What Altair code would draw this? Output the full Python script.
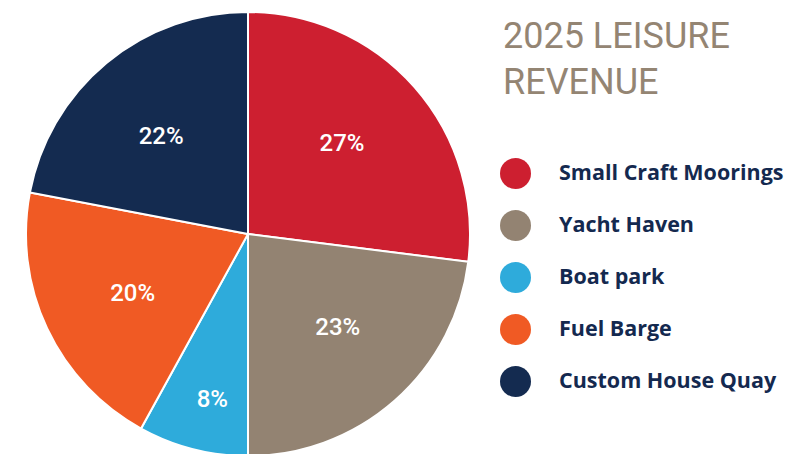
import altair as alt
import pandas as pd

categories = ["Small Craft Moorings", "Yacht Haven", "Boat park", "Fuel Barge", "Custom House Quay"]
shares = [27, 23, 8, 20, 22]
labels = ["27%", "23%", "8%", "20%", "22%"]
colors = ["#CD1F30", "#938372", "#2EABDB", "#F05A24", "#142B50"]
title_lines = ["2025 LEISURE", "REVENUE"]

df = pd.DataFrame({
    "category": categories,
    "share": shares,
    "label": labels,
    "idx": list(range(len(categories))),
})

CX, CY, R = 240, 226, 222

pie = alt.Chart(df).mark_arc(outerRadius=R, stroke="white", strokeWidth=2).encode(
    theta=alt.Theta("share:Q", stack=True),
    order=alt.Order("idx:Q"),
    x=alt.value(CX),
    y=alt.value(CY),
    color=alt.Color(
        "category:N",
        sort=categories,
        scale=alt.Scale(domain=categories, range=colors),
        legend=alt.Legend(
            orient="none", legendX=492, legendY=150, title=None,
            symbolType="circle", symbolSize=961, symbolStrokeWidth=0,
            symbolOpacity=1, labelLimit=0,
            labelFont="Open Sans", labelFontSize=21.5, labelFontWeight="bold",
            labelColor="#14294F", labelOffset=28, rowPadding=21, padding=0,
        ),
    ),
)

pct = alt.Chart(df).transform_window(
    cum="sum(share)", sort=[alt.SortField("idx")], frame=[None, 0]
).transform_joinaggregate(
    total="sum(share)"
).transform_calculate(
    mid="(datum.cum - datum.share / 2) / datum.total * 2 * PI - 0.04",
    r="datum.share < 10 ? 170 : 130",
).mark_text(
    font="Roboto", fontSize=24, fontWeight=500, color="white",
    align="center", baseline="middle",
).encode(
    theta=alt.Theta("mid:Q", scale=None, stack=False),
    radius=alt.Radius("r:Q", scale=None),
    x=alt.value(CX),
    y=alt.value(CY),
    text="label:N",
)

title = alt.Chart(alt.Data(values=[{}])).mark_text(
    text=title_lines, font="Roboto", fontSize=36, fontWeight=400,
    color="#948573", align="left", baseline="top", lineHeight=46,
).encode(x=alt.value(495), y=alt.value(12))

chart = alt.layer(pie, pct, title).properties(
    width=776, height=446, padding=0,
    autosize=alt.AutoSizeParams(type="none"),
).configure_view(stroke=None)

chart.save("out.html", embed_options={"renderer": "svg", "actions": False})
